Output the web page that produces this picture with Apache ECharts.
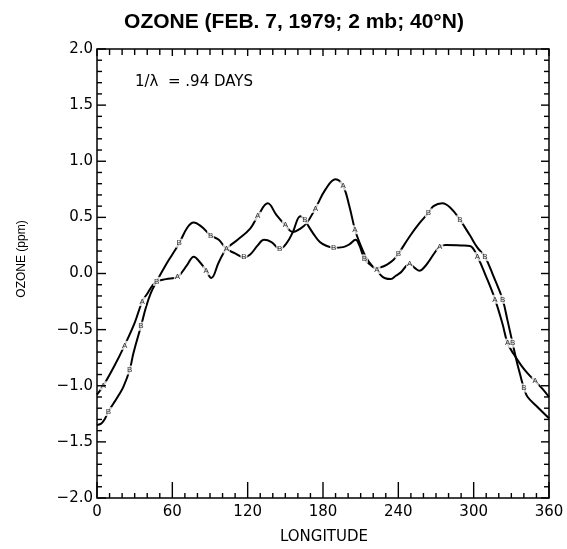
<!DOCTYPE html>
<html>
<head>
<meta charset="utf-8">
<script src="https://cdn.jsdelivr.net/npm/echarts@6/dist/echarts.min.js"></script>
<style>
html,body{margin:0;padding:0;background:#fff;}
#chart{width:567px;height:549px;}
</style>
</head>
<body>
<div id="chart"></div>
<script>
// ---- data ----
const lonA = [0, 5, 14, 22, 30, 36, 40, 44, 47.5, 55, 64, 72, 77, 82, 87, 91, 97, 103, 112, 122,
  128, 136, 143, 150, 156, 162, 167, 174, 182, 190, 196, 201, 205.5, 210, 214, 219, 223, 226, 229, 234,
  238, 242, 249, 253, 257, 261, 265, 273, 278, 290, 297, 303, 310, 317, 323, 327, 332, 338, 343, 349, 355, 360];
const valA = [-1.08, -1.00, -0.82, -0.64, -0.44, -0.25, -0.18, -0.11, -0.07, -0.05, -0.03, 0.08, 0.15, 0.10, 0.025, -0.04, 0.10, 0.22, 0.30, 0.40,
  0.51, 0.625, 0.52, 0.43, 0.37, 0.40, 0.45, 0.58, 0.75, 0.84, 0.78, 0.60, 0.39, 0.25, 0.15, 0.07, 0.035, -0.015, -0.04, -0.05,
  -0.02, 0.01, 0.085, 0.05, 0.025, 0.06, 0.12, 0.24, 0.255, 0.25, 0.245, 0.15, -0.03, -0.23, -0.45, -0.62, -0.72, -0.82, -0.89, -0.96, -1.03, -1.10];
const markA = [5, 22, 36, 64, 87, 103, 128, 150, 174, 196, 205.5, 223, 249, 273, 303, 317, 327, 349];

const lonB = [0, 3, 6, 9, 13, 17, 21, 26, 29, 35, 39, 43, 47.5, 55, 60, 65.5, 72, 77, 83, 90.5,
  97, 103, 110, 117, 122, 128, 133, 139, 145.5, 151, 156, 162, 165.5, 168, 172, 177.5, 183, 188.5, 196, 201,
  206, 209, 213, 218, 222, 226, 231, 236, 240, 249, 257, 264, 268, 275, 282, 289, 297, 303, 309, 316,
  323, 327, 331, 334, 337, 340, 343, 350, 360];
const valB = [-1.35, -1.34, -1.30, -1.23, -1.16, -1.09, -1.01, -0.86, -0.71, -0.47, -0.30, -0.17, -0.07, 0.08, 0.17, 0.27, 0.41, 0.455, 0.42, 0.34,
  0.30, 0.22, 0.18, 0.145, 0.17, 0.25, 0.30, 0.28, 0.22, 0.27, 0.37, 0.51, 0.48, 0.43, 0.36, 0.28, 0.245, 0.23, 0.235, 0.26,
  0.30, 0.25, 0.13, 0.075, 0.05, 0.055, 0.08, 0.12, 0.175, 0.33, 0.45, 0.54, 0.60, 0.625, 0.58, 0.48, 0.34, 0.23, 0.15, -0.03,
  -0.23, -0.42, -0.62, -0.77, -0.90, -1.02, -1.10, -1.18, -1.29];
const markB = [9, 26, 35, 47.5, 65.5, 90.5, 117, 145.5, 165.5, 188.5, 213, 240, 264, 289, 309, 323, 331, 340];

const xTicks = [0, 60, 120, 180, 240, 300, 360];
const yTicks = [-2.0, -1.5, -1.0, -0.5, 0.0, 0.5, 1.0, 1.5, 2.0];
const xMinorStep = 10;
const yMinorStep = 0.1;

const titleText = 'OZONE (FEB. 7, 1979; 2 mb; 40°N)';
const noteText = '1/\u03bb  = .94 DAYS';
const xName = 'LONGITUDE';
const yName = 'OZONE (ppm)';

// ---- build ----
const pairs = (lons, vals) => lons.map((x, i) => [x, vals[i]]);
const marks = (m, lons, vals) => m.map(x => [x, vals[lons.indexOf(x)]]);

const BLACK = '#000';
const tickFont = 'DejaVu Sans';
const xMin = xTicks[0], xMax = xTicks[xTicks.length - 1];
const yMin = yTicks[0], yMax = yTicks[yTicks.length - 1];

function lineSeries(name, lons, vals) {
  return {
    name, type: 'line', data: pairs(lons, vals), smooth: 0.4,
    showSymbol: false, symbol: 'none', z: 2,
    lineStyle: { color: BLACK, width: 2 }, silent: true, animation: false
  };
}
function markSeries(letter, m, lons, vals) {
  return {
    type: 'scatter', data: marks(m, lons, vals), symbol: 'rect', symbolSize: [7, 9], z: 4,
    itemStyle: { color: '#fff' }, silent: true, animation: false,
    label: { show: true, position: 'inside', formatter: letter, color: BLACK,
             fontSize: 8, fontFamily: 'Liberation Sans' }
  };
}

const chart = echarts.init(document.getElementById('chart'), null, { renderer: 'canvas' });
chart.setOption({
  animation: false,
  backgroundColor: '#fff',
  grid: { left: 97, right: 18, top: 49, bottom: 51, containLabel: false,
          show: true, borderColor: BLACK, borderWidth: 1.5, backgroundColor: 'transparent' },
  xAxis: {
    type: 'value', min: xMin, max: xMax, interval: 60,
    axisLine: { show: false, onZero: false }, splitLine: { show: false }, axisTick: { show: false },
    axisLabel: { color: BLACK, fontSize: 15, fontFamily: tickFont, margin: 7 }
  },
  yAxis: {
    type: 'value', min: yMin, max: yMax, interval: 0.5,
    axisLine: { show: false, onZero: false }, splitLine: { show: false }, axisTick: { show: false },
    axisLabel: { color: BLACK, fontSize: 15, fontFamily: tickFont, margin: 4,
                 formatter: v => (v < 0 ? '\u2212' : '') + Math.abs(v).toFixed(1) }
  },
  series: [
    lineSeries('A', lonA, valA),
    lineSeries('B', lonB, valB),
    markSeries('A', markA, lonA, valA),
    markSeries('B', markB, lonB, valB)
  ]
});

// frame ticks, placed through the chart's own axis scales
const tickLen = { bottom: [5, 16], top: [6, 7], left: [5, 9], right: [5, 8] };
const tickStyle = () => ({ stroke: BLACK, lineWidth: 1.4 });
const toPx = p => chart.convertToPixel({ gridIndex: 0 }, p);
const graphics = [];
let tid = 0;
function addTick(x1, y1, x2, y2) {
  graphics.push({ id: 'tick' + (tid++), type: 'line', z: 100,
    shape: { x1, y1, x2, y2 }, style: tickStyle() });
}
for (let i = 0; i <= Math.round((xMax - xMin) / xMinorStep); i++) {
  const v = xMin + i * xMinorStep;
  const m = xTicks.indexOf(v) >= 0 ? 1 : 0;
  const pb = toPx([v, yMin]), pt = toPx([v, yMax]);
  addTick(pb[0], pb[1], pb[0], pb[1] - tickLen.bottom[m]);
  addTick(pt[0], pt[1], pt[0], pt[1] + tickLen.top[m]);
}
for (let i = 0; i <= Math.round((yMax - yMin) / yMinorStep); i++) {
  const v = +(yMin + i * yMinorStep).toFixed(2);
  const m = yTicks.indexOf(v) >= 0 ? 1 : 0;
  const pl = toPx([xMin, v]), pr = toPx([xMax, v]);
  addTick(pl[0], pl[1], pl[0] + tickLen.left[m], pl[1]);
  addTick(pr[0], pr[1], pr[0] - tickLen.right[m], pr[1]);
}
graphics.push(
  { id: 'title', type: 'text', x: 294, y: 22, z: 100, style: { text: titleText, fill: BLACK, stroke: null, lineWidth: 0,
    font: 'bold 21px "Liberation Sans", Arial, sans-serif', textAlign: 'center', textVerticalAlign: 'middle' } },
  { id: 'note', type: 'text', x: 135, y: 82, z: 100, style: { text: noteText, fill: BLACK, stroke: null, lineWidth: 0,
    font: '15px "DejaVu Sans", sans-serif', textAlign: 'left', textVerticalAlign: 'middle' } },
  { id: 'xname', type: 'text', x: 324, y: 537, z: 100, style: { text: xName, fill: BLACK, stroke: null, lineWidth: 0,
    font: '15px "DejaVu Sans", sans-serif', textAlign: 'center', textVerticalAlign: 'middle' } },
  { id: 'yname', type: 'text', x: 22, y: 259, z: 100, rotation: Math.PI / 2, style: { text: yName, fill: BLACK, stroke: null, lineWidth: 0,
    font: '12px "Liberation Sans", Arial, sans-serif', textAlign: 'center', textVerticalAlign: 'middle' } }
);
chart.setOption({ graphic: graphics });
</script>
</body>
</html>
